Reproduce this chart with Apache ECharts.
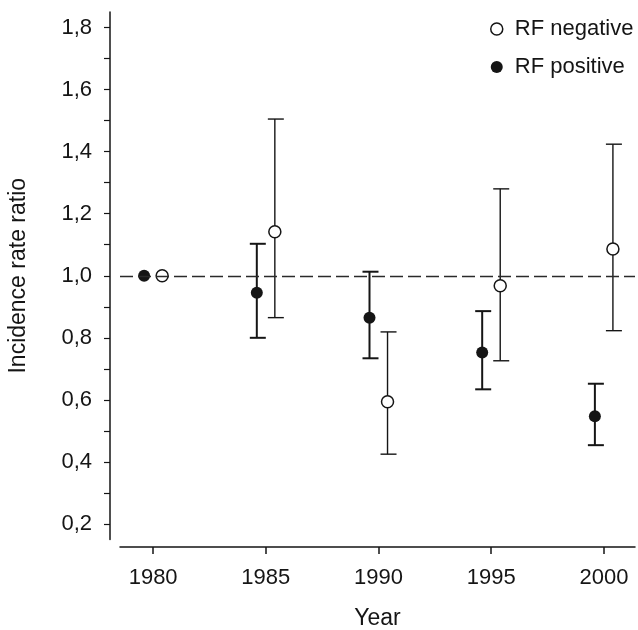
<!DOCTYPE html>
<html>
<head>
<meta charset="utf-8">
<script src="https://cdn.jsdelivr.net/npm/echarts@6/dist/echarts.min.js"></script>
<style>
html,body{margin:0;padding:0;background:#fff;}
#chart{width:638px;height:630px;}
</style>
</head>
<body>
<div id="chart"></div>
<script>
// ---- data ----
const years = [1980, 1985, 1990, 1995, 2000];
const rfNegative     = [1.00, 1.142, 0.594, 0.968, 1.086];
const rfNegativeLow  = [1.00, 0.865, 0.425, 0.726, 0.823];
const rfNegativeHigh = [1.00, 1.505, 0.819, 1.280, 1.424];
const rfPositive     = [1.00, 0.945, 0.865, 0.753, 0.547];
const rfPositiveLow  = [1.00, 0.800, 0.734, 0.634, 0.454];
const rfPositiveHigh = [1.00, 1.103, 1.013, 0.886, 0.652];
const xTickValues = [1980, 1985, 1990, 1995, 2000];
const yLabelValues = [0.2, 0.4, 0.6, 0.8, 1.0, 1.2, 1.4, 1.6, 1.8];
const yTickValues = [0.2, 0.3, 0.4, 0.5, 0.6, 0.7, 0.8, 0.9, 1.0, 1.1, 1.2, 1.3, 1.4, 1.5, 1.6, 1.7, 1.8];
const referenceLevel = 1.0;
const groupShift = 0.4; // side-by-side placement of the two groups per year

const FONT = 'Liberation Sans, Arial, sans-serif';
const INK = '#151515';

const negPts = years.map((y, i) => [y + groupShift, rfNegative[i]]);
const posPts = years.map((y, i) => [y - groupShift, rfPositive[i]]);
const negErr = years.map((y, i) => [y + groupShift, rfNegativeLow[i], rfNegativeHigh[i]]);
const posErr = years.map((y, i) => [y - groupShift, rfPositiveLow[i], rfPositiveHigh[i]]);

function errRender(width) {
  return function (params, api) {
    const x = api.value(0), lo = api.value(1), hi = api.value(2);
    if (lo === hi) return null;
    const a = api.coord([x, lo]);
    const b = api.coord([x, hi]);
    const st = { stroke: INK, lineWidth: width };
    return {
      type: 'group',
      children: [
        { type: 'line', shape: { x1: a[0], y1: a[1], x2: b[0], y2: b[1] }, style: st },
        { type: 'line', shape: { x1: b[0] - 7, y1: b[1], x2: b[0] + 9, y2: b[1] }, style: st },
        { type: 'line', shape: { x1: a[0] - 7, y1: a[1], x2: a[0] + 9, y2: a[1] }, style: st }
      ]
    };
  };
}

const chart = echarts.init(document.getElementById('chart'), null, { renderer: 'canvas' });
chart.setOption({
  animation: false,
  backgroundColor: '#fff',
  textStyle: { fontFamily: FONT, color: INK },
  grid: { left: 120, right: 3, top: 12, bottom: 90.5, containLabel: false, outerBoundsMode: 'none' },
  legend: {
    orient: 'vertical',
    left: 490,
    top: 17,
    padding: 0,
    itemWidth: 12,
    itemHeight: 12,
    itemGap: 14,
    selectedMode: false,
    textStyle: { fontFamily: FONT, fontSize: 22, color: INK, lineHeight: 24, padding: [0, 0, 0, 7] },
    data: [
      { name: 'RF negative', icon: 'circle', itemStyle: { color: '#fff', borderColor: INK, borderWidth: 1.5 } },
      { name: 'RF positive', icon: 'circle', itemStyle: { color: INK, borderWidth: 0 } }
    ]
  },
  xAxis: {
    type: 'value',
    min: 1978.53,
    max: 2001.38,
    offset: 7.5,
    name: 'Year',
    nameLocation: 'middle',
    nameGap: 60,
    nameTextStyle: { fontFamily: FONT, fontSize: 23, color: INK },
    axisLine: { show: true, onZero: false, lineStyle: { color: INK, width: 1.5 } },
    axisTick: { show: true, length: 7, lineStyle: { color: INK, width: 1.5 }, customValues: xTickValues },
    axisLabel: { fontFamily: FONT, fontSize: 22, color: INK, margin: 20, customValues: xTickValues, formatter: v => String(v) },
    splitLine: { show: false }
  },
  yAxis: {
    type: 'value',
    min: 0.15,
    max: 1.85,
    offset: 10,
    name: 'Incidence rate ratio',
    nameLocation: 'middle',
    nameGap: 80,
    nameTextStyle: { fontFamily: FONT, fontSize: 23, color: INK },
    axisLine: { show: true, onZero: false, lineStyle: { color: INK, width: 1.5 } },
    axisTick: { show: true, length: 6, lineStyle: { color: INK, width: 1.2 }, customValues: yTickValues },
    axisLabel: {
      fontFamily: FONT, fontSize: 22, color: INK, margin: 18,
      customValues: yLabelValues,
      formatter: v => v.toFixed(1).replace('.', ',')
    },
    splitLine: { show: false }
  },
  series: [
    {
      type: 'custom',
      name: 'negErr',
      z: 1,
      renderItem: errRender(1.4),
      data: negErr,
      encode: { x: 0, y: [1, 2] },
      markLine: {
        silent: true,
        symbol: ['none', 'none'],
        label: { show: false },
        lineStyle: { type: [13, 5], color: '#2a2a2a', width: 1.3 },
        data: [{ yAxis: referenceLevel }]
      }
    },
    {
      type: 'custom',
      name: 'posErr',
      z: 1,
      renderItem: errRender(2),
      data: posErr,
      encode: { x: 0, y: [1, 2] }
    },
    {
      type: 'scatter',
      name: 'RF negative',
      z: 3,
      symbol: 'circle',
      symbolSize: 12,
      itemStyle: { color: '#fff', borderColor: INK, borderWidth: 1.5, opacity: 1 },
      data: negPts
    },
    {
      type: 'scatter',
      name: 'RF positive',
      z: 3,
      symbol: 'circle',
      symbolSize: 12,
      itemStyle: { color: INK, opacity: 1 },
      data: posPts
    }
  ]
});
</script>
</body>
</html>
